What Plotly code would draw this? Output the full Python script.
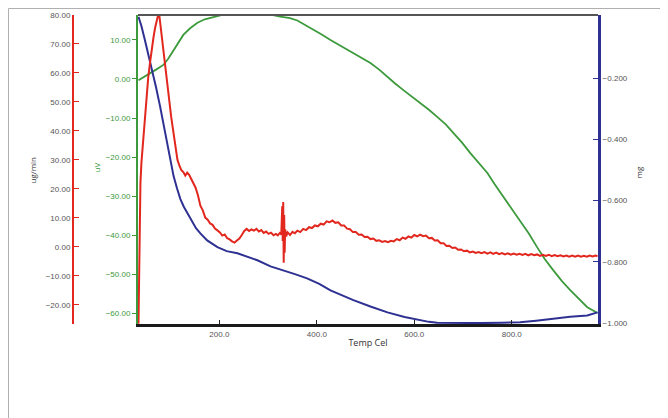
import plotly.graph_objects as go

# ---------------- data ----------------
red_x = [34, 35, 36, 38, 40, 42, 45, 48, 51, 54, 58, 62, 65, 68, 71, 73, 75, 77, 79, 82,
         85, 89, 93, 97, 101, 104, 108, 111, 114, 118, 122, 126, 130, 134, 138, 142, 146, 151,
         156, 161, 166, 171, 176, 181, 186, 191, 196, 201, 206, 211, 216, 221, 226, 231, 236,
         241, 246, 251, 256, 261, 266, 271, 276, 281, 286, 291, 296, 301, 306, 311, 316, 320,
         324, 327, 328, 329, 330, 331, 332, 333, 334, 335, 337, 340, 345, 350, 355, 360, 366,
         372, 378, 384, 390, 396, 402, 408, 414, 420, 426, 432, 438, 444, 450, 456, 462, 468,
         474, 480, 486, 492, 498, 504, 510, 516, 522, 528, 534, 540, 546, 552, 558, 564, 570,
         576, 582, 588, 594, 600, 606, 612, 618, 624, 630, 636, 642, 648, 654, 660, 666, 672,
         678, 684, 690, 696, 702, 708, 714, 720, 726, 732, 738, 744, 750, 756, 762, 768, 774,
         780, 786, 792, 798, 804, 810, 816, 822, 828, 834, 840, 846, 852, 858, 864, 870, 876,
         882, 888, 894, 900, 906, 912, 918, 924, 930, 936, 942, 948, 954, 960, 966, 972, 976]
red_y = [-26.5, -10, 2, 22, 29, 33.5, 41, 47, 53, 58.5, 64, 69.5, 72.5, 75.5, 78, 79.5, 80.5, 79.5, 76.5, 72,
         68, 62, 56.5, 50, 45, 41.5, 37, 33, 30, 28, 26.5, 25.8, 24.6, 25.6, 24.9, 23.5, 22, 20.5,
         17.8, 14.2, 12.6, 10.1, 9.4, 8.1, 7.6, 6.3, 5.7, 5.0, 3.9, 4.3, 3.0, 2.6, 1.9, 1.5, 2.2,
         2.9, 4.1, 5.5, 6.2, 5.5, 6.0, 5.6, 6.2, 5.3, 5.8, 4.8, 5.3, 4.5, 4.9, 4.0, 4.5, 4.0,
         4.8, 4.2, 9, 14, 2, 15.5, -5.5, 11, -2, 6, 3.6, 5.0, 4.1, 5.2, 4.7, 5.6, 5.1,
         6.2, 5.8, 6.8, 6.5, 7.4, 7.1, 8.0, 7.7, 8.8, 8.5, 9.1, 8.3, 8.5, 7.4, 7.4, 6.3, 6.1,
         5.1, 5.1, 4.2, 4.3, 3.4, 3.5, 2.7, 2.9, 2.1, 2.3, 1.7, 2.0, 1.6, 2.1, 1.9, 2.7, 2.3,
         3.2, 2.8, 3.6, 3.2, 4.1, 3.6, 4.2, 3.7, 3.9, 3.0, 3.1, 2.2, 2.3, 1.3, 1.3, 0.3, 0.4,
         -0.4, -0.2, -1.0, -0.9, -1.5, -1.3, -1.9, -1.6, -2.1, -1.8, -2.2, -1.8, -2.3, -1.9, -2.4, -2.0, -2.5,
         -2.1, -2.6, -2.2, -2.7, -2.3, -2.7, -2.4, -2.8, -2.4, -2.9, -2.5, -2.9, -2.6, -3.1, -2.7, -3.1, -2.7,
         -3.2, -2.8, -3.2, -2.9, -3.3, -3.0, -3.4, -3.0, -3.4, -3.0, -3.4, -3.1, -3.4, -3.0, -3.3, -3.0, -3.2]

blue_x = [34, 40, 47, 54, 62, 70, 78, 85, 93, 100, 106, 113, 120, 127, 134, 143, 152, 161, 175,
          196, 215, 237, 260, 278, 305, 331, 355, 380, 405, 428, 452, 475, 510, 545, 580, 612,
          630, 647, 680, 735, 780, 817, 850, 885, 920, 955, 976]
blue_y = [0.0, -0.03, -0.075, -0.12, -0.175, -0.23, -0.29, -0.35, -0.41, -0.47, -0.52, -0.56,
          -0.595, -0.62, -0.64, -0.665, -0.69, -0.707, -0.73, -0.752, -0.765, -0.772, -0.784,
          -0.795, -0.815, -0.827, -0.84, -0.854, -0.872, -0.893, -0.91, -0.925, -0.946, -0.965,
          -0.98, -0.991, -0.996, -0.999, -1.0, -1.0, -0.999, -0.997, -0.992, -0.985, -0.979,
          -0.975, -0.965]

green_x = [34, 45, 58, 70, 85, 95, 106, 116, 126, 140, 155, 170, 188, 208, 230, 255, 284, 305,
           325, 345, 360, 380, 393, 410, 428, 450, 475, 490, 510, 528, 545, 560, 577, 595, 612,
           630, 647, 665, 680, 698, 715, 732, 750, 765, 783, 800, 817, 835, 852, 868, 885, 903,
           920, 938, 955, 976]
green_y = [-0.3, 0.6, 1.5, 2.4, 3.6, 5.2, 7.4, 9.4, 11.3, 13.0, 14.4, 15.3, 15.9, 16.6, 17.2,
           17.3, 16.9, 16.5, 16.0, 15.6, 15.0, 13.6, 12.6, 11.4, 10.0, 8.4, 6.7, 5.5, 4.1, 2.4,
           0.5, -1.1, -2.8, -4.5, -6.2, -7.9, -9.7, -11.7, -13.8, -16.3, -19.0, -21.5, -24.1,
           -27.0, -30.3, -33.2, -36.2, -39.6, -43.1, -46.2, -49.0, -51.8, -54.1, -56.5, -58.5,
           -60.0]

x_ticks = [200, 400, 600, 800]
red_ticks = [80, 70, 60, 50, 40, 30, 20, 10, 0, -10, -20]
green_ticks = [10, 0, -10, -20, -30, -40, -50, -60]
blue_ticks = [-0.2, -0.4, -0.6, -0.8, -1.0]

x_title = "Temp Cel"
red_title = "ug/min"
green_title = "uV"
blue_title = "mg"

# ---------------- colours ----------------
RED = "#e2281e"
GREEN = "#3c9a3c"
BLUE = "#2e3192"

# the page body has an 8px margin, so work in figure coordinates = page - 8
OFF = 8
W, H = 668 - OFF, 418 - OFF
L, R, T, B = 138 - OFF, 598 - OFF, 15 - OFF, 324 - OFF  # plot-area bounds


def px(page_x):
    return (page_x - OFF) / W


def py(page_y):
    return (B - (page_y - OFF)) / (B - T)


fig = go.Figure()
fig.add_trace(go.Scatter(x=green_x, y=green_y, mode="lines", yaxis="y",
                         line=dict(color=GREEN, width=1.8), showlegend=False))
fig.add_trace(go.Scatter(x=blue_x, y=blue_y, mode="lines", yaxis="y2",
                         line=dict(color=BLUE, width=2), showlegend=False))
fig.add_trace(go.Scatter(x=red_x, y=red_y, mode="lines", yaxis="y3",
                         line=dict(color=RED, width=2), showlegend=False))

tickfont = dict(family="Arial, Liberation Sans, sans-serif", size=8, color="#555555")

fig.update_layout(
    width=W, height=H,
    margin=dict(l=0, r=0, t=T, b=H - B),
    paper_bgcolor="white", plot_bgcolor="white",
    xaxis=dict(domain=[L / W, R / W], range=[33, 977], tickvals=x_ticks,
               tickformat=".1f", ticks="inside", ticklen=4, tickcolor="#222",
               showline=True, linecolor="#1a1a1a", linewidth=3, showgrid=False,
               zeroline=False, tickfont=tickfont,
               title=dict(text=x_title, font=dict(size=9, color="#333"), standoff=3)),
    yaxis=dict(range=[-62.8, 16.4], tickvals=green_ticks, tickformat=".2f",
               ticks="outside", ticklen=4, tickcolor=GREEN, side="left",
               showline=True, linecolor=GREEN, linewidth=2, showgrid=False,
               zeroline=False, tickfont=dict(tickfont, color=GREEN)),
    yaxis2=dict(range=[-1.003, 0.006], tickvals=blue_ticks, tickformat=".3f",
                ticks="inside", ticklen=5, tickcolor=BLUE, side="right",
                overlaying="y", anchor="x",
                showline=True, linecolor=BLUE, linewidth=3, showgrid=False,
                zeroline=False, tickfont=tickfont),
    yaxis3=dict(range=[-26.6, 80], tickvals=red_ticks, tickformat=".2f",
                ticks="inside", ticklen=5, tickcolor=RED, side="left",
                overlaying="y", anchor="free", position=px(73),
                showline=True, linecolor=RED, linewidth=2, showgrid=False,
                zeroline=False, tickfont=tickfont),
    shapes=[
        # top edge of the plot frame
        dict(type="line", xref="paper", yref="paper", x0=L / W, x1=R / W, y0=1, y1=1,
             line=dict(color="#555555", width=2)),
        # outer picture frame (top and left)
        dict(type="line", xref="paper", yref="paper", x0=px(8.5), x1=1.0, y0=py(8.5), y1=py(8.5),
             line=dict(color="#b0b0b0", width=1)),
        dict(type="line", xref="paper", yref="paper", x0=px(8.5), x1=px(8.5), y0=py(8.5), y1=py(418),
             line=dict(color="#b0b0b0", width=1)),
    ],
    annotations=[
        dict(text=red_title, xref="paper", yref="paper", x=px(25), y=py(170),
             textangle=-90, showarrow=False, font=dict(size=8, color="#333")),
        dict(text=green_title, xref="paper", yref="paper", x=px(88), y=py(168),
             textangle=-90, showarrow=False, font=dict(size=8, color=GREEN)),
        dict(text=blue_title, xref="paper", yref="paper", x=px(646), y=py(173),
             textangle=-90, showarrow=False, font=dict(size=8, color="#333")),
    ],
)

fig.write_html("out.html")
